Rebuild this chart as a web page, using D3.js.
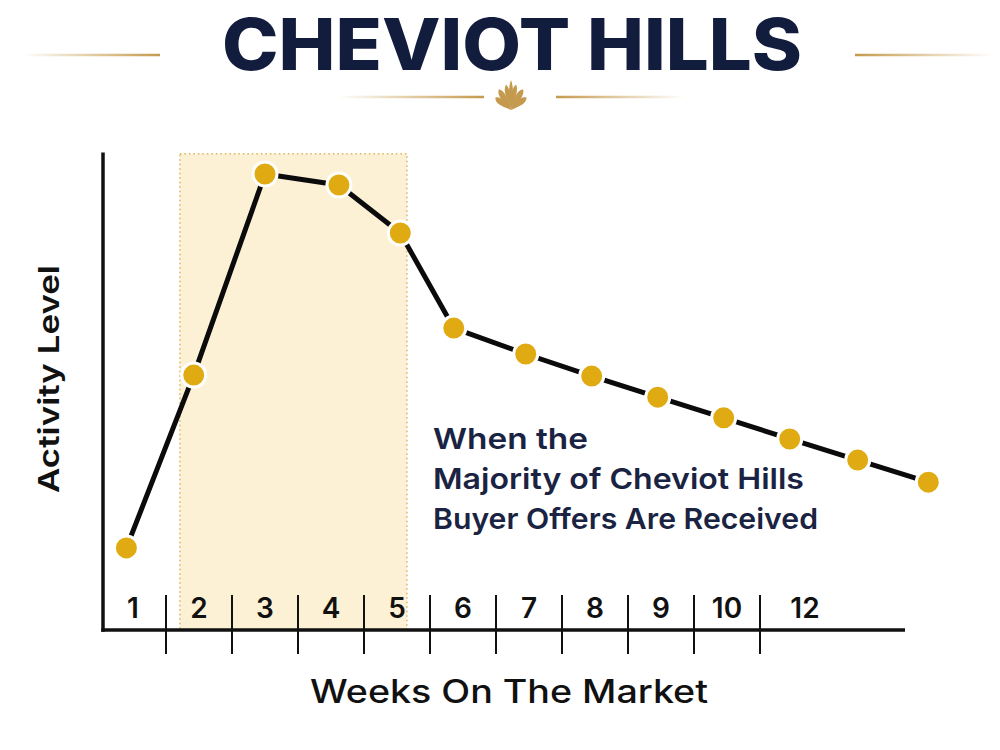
<!DOCTYPE html>
<html>
<head>
<meta charset="utf-8">
<script src="https://cdn.jsdelivr.net/npm/d3@7"></script>
<style>
  html, body { margin: 0; padding: 0; background: #ffffff; }
  svg { display: block; }
</style>
</head>
<body>
<svg id="chart" width="1000" height="750"></svg>
<script>
// ---- data ----
const title = "CHEVIOT HILLS";
const tickLabels = ["1", "2", "3", "4", "5", "6", "7", "8", "9", "10", "12"];
const pointWeeks = [0.9, 1.92, 3.0, 4.12, 5.05, 5.86, 6.95, 7.95, 8.95, 9.95, 10.95, 11.98, 13.05];
const activity = [17.1, 53.1, 95.0, 92.7, 82.7, 62.9, 57.5, 52.9, 48.5, 44.2, 39.8, 35.4, 30.8];
const highlightRange = [1.71, 5.15];
const annotationLines = ["When the", "Majority of Cheviot Hills", "Buyer Offers Are Received"];
const annotationWidths = [155, 371, 385];
const xAxisTitle = "Weeks On The Market";
const yAxisTitle = "Activity Level";

// ---- layout ----
const svg = d3.select("#chart");
const navy = "#121c3d";
const gold = "#e0aa12";
const font = "Inter, 'Noto Sans', 'Open Sans', sans-serif";

const x = d3.scaleLinear().domain([0.5, 13.5]).range([100, 958]);
const y = d3.scaleLinear().domain([0, 100]).range([630, 150]);

// defs: gradients for ornament lines
const defs = svg.append("defs");
function grad(id, stops) {
  const g = defs.append("linearGradient").attr("id", id).attr("x1", "0%").attr("x2", "100%");
  stops.forEach(s => g.append("stop").attr("offset", s[0]).attr("stop-color", "#c59a4c").attr("stop-opacity", s[1]));
}
grad("fadeL", [["0%", 0], ["100%", 1]]);
grad("fadeR", [["0%", 1], ["100%", 0]]);

// ---- title ----
svg.append("text")
  .attr("x", 512).attr("y", 70)
  .attr("text-anchor", "middle")
  .attr("font-family", font)
  .attr("font-weight", 800)
  .attr("font-size", 71)
  .attr("fill", navy)
  .attr("textLength", 580)
  .attr("lengthAdjust", "spacingAndGlyphs")
  .text(title);

// decorative lines
const decoLines = [
  [22, 160, 55, "fadeL"], [855, 992, 55, "fadeR"],
  [338, 484, 97, "fadeL"], [556, 684, 97, "fadeR"]
];
svg.selectAll("rect.deco").data(decoLines).enter().append("rect")
  .attr("class", "deco")
  .attr("x", d => d[0]).attr("y", d => d[2] - 1.25)
  .attr("width", d => d[1] - d[0]).attr("height", 2.5)
  .attr("fill", d => `url(#${d[3]})`);

// ornament (fleur fan)
const orn = svg.append("g").attr("transform", "translate(511,110)").attr("fill", "#c49a4e");
[-64, -38, -14, 14, 38, 64].forEach((a) => {
  const ab = Math.abs(a);
  const len = ab < 20 ? 26 : (ab < 45 ? 24 : 20);
  const w = ab < 20 ? 3.2 : 4;
  orn.append("path")
    .attr("d", `M0,0 C${-w * 0.6},${-len * 0.45} ${-w * 1.4},${-len * 0.8} 0,${-len} C${w * 1.2},${-len * 0.8} ${w * 0.6},${-len * 0.45} 0,0 Z`)
    .attr("transform", `rotate(${a * 0.8})`);
});
orn.append("path")
  .attr("d", "M0,0 C-2.2,-12 -3,-22 0,-30 C3,-22 2.2,-12 0,0 Z");

// ---- highlight band ----
svg.append("rect")
  .attr("x", x(highlightRange[0]))
  .attr("y", y(99.2))
  .attr("width", x(highlightRange[1]) - x(highlightRange[0]))
  .attr("height", y(0) - y(99.2))
  .attr("fill", "#fdf1d5")
  .attr("stroke", "#d8b45e")
  .attr("stroke-width", 1.5)
  .attr("stroke-dasharray", "1.5,3");

// ---- axes ----
const axisColor = "#111111";
svg.append("line")
  .attr("x1", 103).attr("x2", 103)
  .attr("y1", y(99.5)).attr("y2", y(0) + 1.75)
  .attr("stroke", axisColor).attr("stroke-width", 3.5);
svg.append("line")
  .attr("x1", 101.25).attr("x2", 905)
  .attr("y1", y(0)).attr("y2", y(0))
  .attr("stroke", axisColor).attr("stroke-width", 3.5);

// separators and tick labels
const labelPos = tickLabels.map((t, i) => i + 1);
const sepPos = labelPos.slice(0, -1).map(p => p + 0.5);
svg.selectAll("line.sep").data(sepPos).enter().append("line")
  .attr("class", "sep")
  .attr("x1", d => x(d)).attr("x2", d => x(d))
  .attr("y1", 595).attr("y2", 654)
  .attr("stroke", axisColor).attr("stroke-width", 2);
svg.selectAll("text.tick").data(tickLabels).enter().append("text")
  .attr("class", "tick")
  .attr("x", (d, i) => x(labelPos[i]) + (d === "12" ? 12 : 0))
  .attr("y", 618)
  .attr("text-anchor", "middle")
  .attr("font-family", font)
  .attr("font-weight", 600)
  .attr("font-size", 28)
  .attr("fill", axisColor)
  .text(d => d);

// ---- line + points ----
const pts = pointWeeks.map((w, i) => [w, activity[i]]);
svg.append("path")
  .datum(pts)
  .attr("fill", "none")
  .attr("stroke", "#0b0b0b")
  .attr("stroke-width", 5)
  .attr("stroke-linejoin", "round")
  .attr("d", d3.line().x(d => x(d[0])).y(d => y(d[1])));
svg.selectAll("circle.pt").data(pts).enter().append("circle")
  .attr("class", "pt")
  .attr("cx", d => x(d[0])).attr("cy", d => y(d[1]))
  .attr("r", 12)
  .attr("fill", gold)
  .attr("stroke", "#ffffff")
  .attr("stroke-width", 3);

// ---- annotation ----
svg.selectAll("text.ann").data(annotationLines).enter().append("text")
  .attr("class", "ann")
  .attr("x", 433)
  .attr("y", (d, i) => 449 + i * 40)
  .attr("font-family", font)
  .attr("font-weight", 600)
  .attr("font-size", 29)
  .attr("fill", "#1a2342")
  .attr("textLength", (d, i) => annotationWidths[i])
  .attr("lengthAdjust", "spacingAndGlyphs")
  .text(d => d);

// ---- axis titles ----
svg.append("text")
  .attr("x", 509).attr("y", 703)
  .attr("text-anchor", "middle")
  .attr("font-family", font)
  .attr("font-weight", 500)
  .attr("font-size", 32)
  .attr("fill", axisColor)
  .attr("textLength", 398)
  .attr("lengthAdjust", "spacingAndGlyphs")
  .text(xAxisTitle);
svg.append("text")
  .attr("transform", "translate(59,379) rotate(-90)")
  .attr("text-anchor", "middle")
  .attr("font-family", font)
  .attr("font-weight", 600)
  .attr("font-size", 29)
  .attr("fill", axisColor)
  .attr("textLength", 228)
  .attr("lengthAdjust", "spacingAndGlyphs")
  .text(yAxisTitle);
</script>
</body>
</html>
